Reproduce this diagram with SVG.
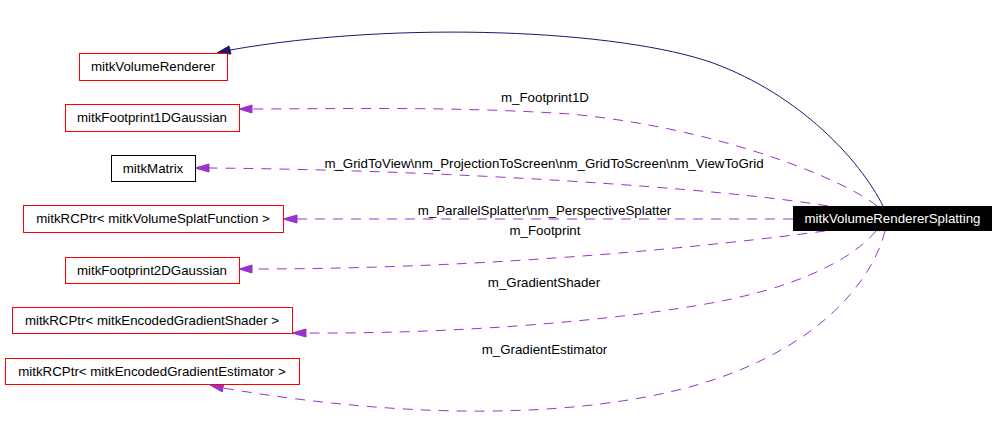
<svg xmlns="http://www.w3.org/2000/svg" width="997" height="448" viewBox="0 0 997 448">
<style>
text{font-family:"Liberation Sans",Arial,sans-serif;font-size:13.3px;fill:#000;text-anchor:middle}
.n{fill:#fff;stroke:#ff0000;stroke-width:1}
.k{fill:#fff;stroke:#000;stroke-width:1}
.e{fill:none;stroke:#9a32cd;stroke-width:1;stroke-dasharray:10,8}
.b{fill:none;stroke:#191970;stroke-width:1}
.ap{fill:#9a32cd;stroke:#9a32cd}
.ab{fill:#191970;stroke:#191970}
</style>
<rect width="997" height="448" fill="#fff"/>
<g id="edges">
<path class="b" d="M883,206 C860,160 800,95 713,63 C620,30 400,20 230,50"/>
<polygon class="ab" points="217,53 229,46 231,54"/>
<path class="e" d="M877,206 C845,180 720,128 570,114 C450,106 330,109 252,109"/>
<polygon class="ap" points="239,109 252,105 252,113"/>
<text x="545" y="102">m_Footprint1D</text>
<path class="e" d="M828,206 C720,188 450,170 209,168"/>
<polygon class="ap" points="195,168 209,164 209,172"/>
<text x="544" y="168">m_GridToView\nm_ProjectionToScreen\nm_GridToScreen\nm_ViewToGrid</text>
<path class="e" d="M793,219 L297,219"/>
<polygon class="ap" points="283,219 297,215 297,223"/>
<text x="544.5" y="215">m_ParallelSplatter\nm_PerspectiveSplatter</text>
<path class="e" d="M825,231 C720,245 500,269 252,269"/>
<polygon class="ap" points="239,269 252,265 252,273"/>
<text x="545" y="235">m_Footprint</text>
<path class="e" d="M876,231 C850,262 790,290 700,305 C600,322 450,334 306,333"/>
<polygon class="ap" points="292,333 306,329 306,337"/>
<text x="544" y="287">m_GradientShader</text>
<path class="e" d="M885,231 C870,290 800,370 640,398 C540,416 400,418 223,388"/>
<polygon class="ap" points="210,385 223.7,384 222.3,392"/>
<text x="544.5" y="354">m_GradientEstimator</text>
</g>
<g id="node-mitkVolumeRenderer">
<rect class="n" x="79.5" y="53.5" width="148" height="27"/>
<text x="153" y="71">mitkVolumeRenderer</text>
</g>
<g id="node-mitkFootprint1DGaussian">
<rect class="n" x="65.5" y="104.5" width="174" height="27"/>
<text x="152" y="122">mitkFootprint1DGaussian</text>
</g>
<g id="node-mitkMatrix">
<rect class="k" x="111.5" y="155.5" width="84" height="26"/>
<text x="153" y="173">mitkMatrix</text>
</g>
<g id="node-mitkRCPtrVolumeSplatFunction">
<rect class="n" x="23.5" y="205.5" width="260" height="27"/>
<text x="153" y="223">mitkRCPtr&lt; mitkVolumeSplatFunction &gt;</text>
</g>
<g id="node-mitkFootprint2DGaussian">
<rect class="n" x="65.5" y="257.5" width="174" height="26"/>
<text x="152" y="275">mitkFootprint2DGaussian</text>
</g>
<g id="node-mitkRCPtrEncodedGradientShader">
<rect class="n" x="12.5" y="307.5" width="280" height="26"/>
<text x="152" y="325">mitkRCPtr&lt; mitkEncodedGradientShader &gt;</text>
</g>
<g id="node-mitkRCPtrEncodedGradientEstimator">
<rect class="n" x="5.5" y="358.5" width="294" height="26"/>
<text x="152" y="376">mitkRCPtr&lt; mitkEncodedGradientEstimator &gt;</text>
</g>
<g id="node-mitkVolumeRendererSplatting">
<rect x="793" y="206" width="199" height="25" fill="#000"/>
<text x="892.5" y="223" style="fill:#fff">mitkVolumeRendererSplatting</text>
</g>
</svg>
